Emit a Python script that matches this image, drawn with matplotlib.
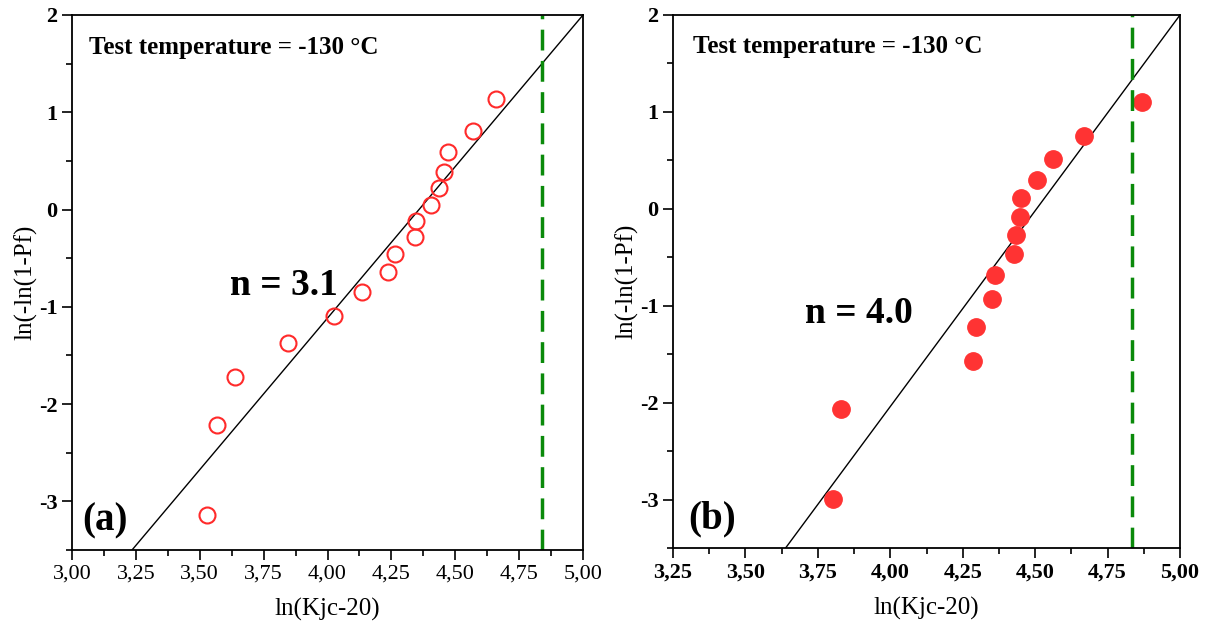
import numpy as np
import matplotlib.pyplot as plt
from matplotlib.ticker import MultipleLocator, FuncFormatter

plt.rcParams['font.family'] = ['Liberation Serif', 'DejaVu Serif']
plt.rcParams['axes.unicode_minus'] = False

# panel (a): open circles
x_a = [3.527, 3.569, 3.639, 3.844, 4.024, 4.136, 4.238, 4.265, 4.343, 4.347,
       4.407, 4.436, 4.455, 4.470, 4.569, 4.659]
y_a = [-3.136, -2.214, -1.720, -1.370, -1.091, -0.848, -0.642, -0.457, -0.284, -0.115,
       0.049, 0.222, 0.391, 0.588, 0.811, 1.136]
n_a, b_a = 3.116, -13.58
limit_a = 4.841

# panel (b): filled circles
x_b = [3.802, 3.830, 4.285, 4.295, 4.352, 4.362, 4.427, 4.433, 4.447, 4.451,
       4.508, 4.563, 4.667, 4.868]
y_b = [-2.996, -2.070, -1.574, -1.215, -0.926, -0.682, -0.463, -0.269, -0.083, 0.112,
       0.298, 0.512, 0.756, 1.099]
n_b, b_b = 4.04, -18.2
limit_b = 4.834

W, H = 1207, 629
fig = plt.figure(figsize=(W / 100, H / 100), dpi=100)
ax1 = fig.add_axes([72 / W, 1 - 550 / H, (583 - 72) / W, (550 - 15) / H])
ax2 = fig.add_axes([673 / W, 1 - 548 / H, (1180 - 673) / W, (548 - 15) / H])

comma = FuncFormatter(lambda v, p: f'{v:.2f}'.replace('.', ','))


def style(ax, xmin, bold_x, tx):
    ax.set_xlim(xmin, 5.0)
    ax.set_ylim(-3.5, 2.0)
    ax.xaxis.set_major_locator(MultipleLocator(0.25))
    ax.xaxis.set_minor_locator(MultipleLocator(0.125))
    ax.yaxis.set_major_locator(MultipleLocator(1))
    ax.yaxis.set_minor_locator(MultipleLocator(0.5))
    ax.xaxis.set_major_formatter(comma)
    ax.tick_params(which='both', direction='out', top=False, right=False, width=1.2)
    ax.tick_params(which='major', length=7, labelsize=16)
    ax.tick_params(which='minor', length=4)
    for s in ax.spines.values():
        s.set_linewidth(1.3)
    for lab in ax.get_yticklabels():
        lab.set_fontweight('bold')
    if bold_x:
        for lab in ax.get_xticklabels():
            lab.set_fontweight('bold')
    ax.set_xlabel('ln(Kjc-20)', fontsize=18, labelpad=10)
    ax.set_ylabel('ln(-ln(1-Pf)', fontsize=18, labelpad=1)
    ax.text(tx, 0.94, 'Test temperature = -130 °C', transform=ax.transAxes,
            fontsize=18, fontweight='bold', va='center')


style(ax1, 3.0, False, 0.033)
style(ax2, 3.25, True, 0.04)

xx = np.linspace(3.0, 5.0, 50)
ax1.plot(xx, n_a * xx + b_a, color='black', lw=1.0)
ax1.plot(x_a, y_a, 'o', ms=11.5, mfc='none', mec='#ff2a2a', mew=1.5)
ax1.axvline(limit_a, color='#0a8a0a', lw=2.5, dashes=(6, 3))
ax1.text(3.617, -0.78, 'n = 3.1', fontsize=27, fontweight='bold', va='center')
ax1.text(3.04, -3.2, '(a)', fontsize=28, fontweight='bold', va='center')

ax2.plot(xx, n_b * xx + b_b, color='black', lw=1.0)
ax2.plot(x_b, y_b, 'o', ms=12.5, color='#ff3333', mec='#ff3333')
ax2.axvline(limit_b, color='#0a8a0a', lw=2.5, dashes=(6, 3))
ax2.text(3.707, -1.08, 'n = 4.0', fontsize=27, fontweight='bold', va='center')
ax2.text(3.303, -3.2, '(b)', fontsize=28, fontweight='bold', va='center')

fig.savefig('out.png', dpi=100)
